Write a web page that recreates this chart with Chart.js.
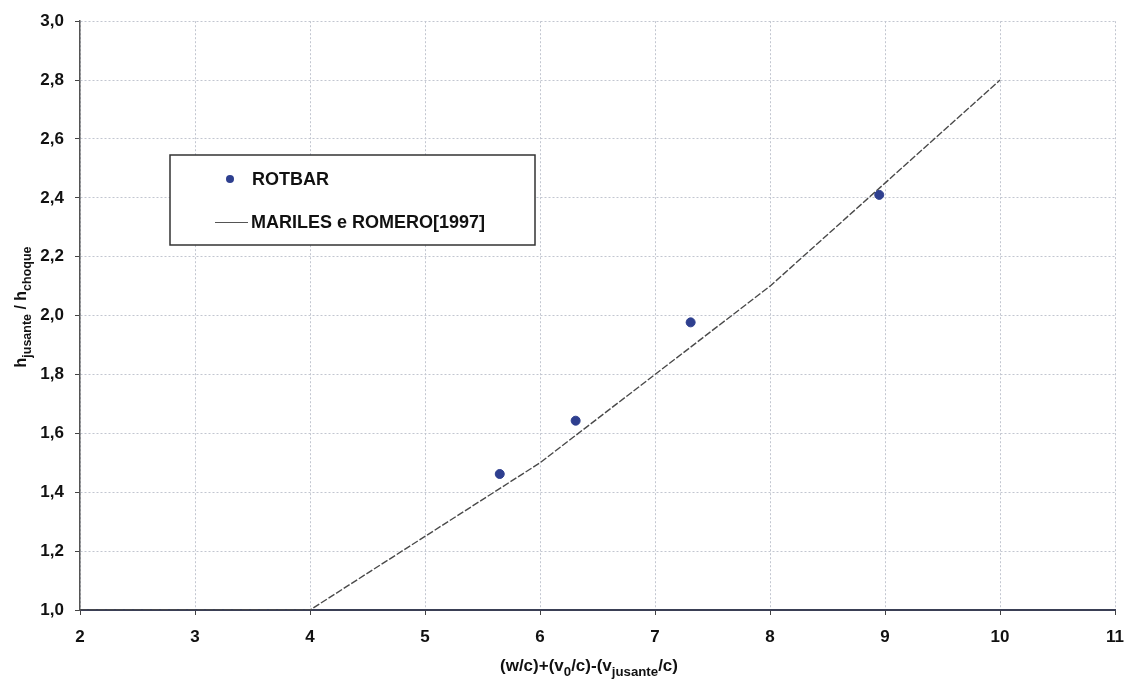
<!DOCTYPE html>
<html>
<head>
<meta charset="utf-8">
<script src="https://cdn.jsdelivr.net/npm/chart.js@4"></script>
<style>
  html, body { margin: 0; padding: 0; background: #fff; }
  #wrap { width: 1129px; height: 679px; position: relative; }
</style>
</head>
<body>
<div id="wrap"><canvas id="razaoChart"></canvas></div>
<script>
// ensaios ROTBAR
var rotbarX = [5.65, 6.31, 7.31, 8.95];
var rotbarY = [1.462, 1.643, 1.977, 2.41];

// curva de MARILES e ROMERO [1997]
var marilesX = [2, 4, 5, 6, 7, 8, 9, 10];
var marilesY = [1.0, 1.0, 1.25, 1.5, 1.8, 2.1, 2.45, 2.8];

var labelRotbar = 'ROTBAR';
var labelMariles = 'MARILES e ROMERO[1997]';

var familia = '"Liberation Sans", Arial, sans-serif';

function pares(xs, ys) {
    return xs.map(function (x, i) { return { x: x, y: ys[i] }; });
}

// escreve texto com subscritos: partes = [[texto, sub?], ...]
function textoSub(ctx, partes, x, y, tam, centro) {
    var total = 0;
    partes.forEach(function (p) {
        ctx.font = 'bold ' + (p[1] ? tam * 0.78 : tam) + 'px ' + familia;
        total += ctx.measureText(p[0]).width;
    });
    var cx = centro ? x - total / 2 : x;
    partes.forEach(function (p) {
        ctx.font = 'bold ' + (p[1] ? tam * 0.78 : tam) + 'px ' + familia;
        ctx.fillText(p[0], cx, p[1] ? y + tam * 0.3 : y);
        cx += ctx.measureText(p[0]).width;
    });
}

var extras = {
    id: 'extras',
    afterDraw: function (chart) {
        var ctx = chart.ctx;
        ctx.save();
        ctx.fillStyle = '#111';
        ctx.textBaseline = 'alphabetic';
        ctx.textAlign = 'left';

        // titulo eixo x
        textoSub(ctx, [['(w/c)+(v', 0], ['0', 1], ['/c)-(v', 0], ['jusante', 1], ['/c)', 0]],
            589, 671, 17, true);

        // titulo eixo y (rodado)
        ctx.translate(26, 307);
        ctx.rotate(-Math.PI / 2);
        textoSub(ctx, [['h', 0], ['jusante', 1], [' / h', 0], ['choque', 1]], 0, 0, 16, true);
        ctx.restore();

        // legenda
        ctx.save();
        var lx = 170, ly = 155, lw = 365, lh = 90;
        ctx.fillStyle = '#fff';
        ctx.fillRect(lx, ly, lw, lh);
        ctx.strokeStyle = '#333';
        ctx.lineWidth = 1.5;
        ctx.strokeRect(lx, ly, lw, lh);

        ctx.fillStyle = '#2e3f8f';
        ctx.beginPath();
        ctx.arc(230, 179, 4, 0, Math.PI * 2);
        ctx.fill();

        ctx.strokeStyle = '#555';
        ctx.lineWidth = 1;
        ctx.beginPath();
        ctx.moveTo(215, 222.5);
        ctx.lineTo(248, 222.5);
        ctx.stroke();

        ctx.fillStyle = '#111';
        ctx.font = 'bold 18px ' + familia;
        ctx.textBaseline = 'middle';
        ctx.fillText(labelRotbar, 252, 180);
        ctx.fillText(labelMariles, 251, 223);
        ctx.restore();
    }
};

function grade() {
    return {
        color: '#c2c6d0',
        lineWidth: 1,
        tickLength: 5,
        tickColor: '#444'
    };
}

var ctx = document.getElementById('razaoChart').getContext('2d');
var razaoChart = new Chart(ctx, {
    type: 'scatter',
    data: {
        datasets: [{
            label: labelMariles,
            data: pares(marilesX, marilesY),
            showLine: true,
            borderColor: '#4a4a4a',
            borderWidth: 1.4,
            borderDash: [7, 2],
            pointRadius: 0,
            fill: false,
            order: 2
        }, {
            label: labelRotbar,
            data: pares(rotbarX, rotbarY),
            showLine: false,
            backgroundColor: '#2e3f8f',
            borderColor: '#2e3f8f',
            pointRadius: 4.5,
            order: 1
        }]
    },
    options: {
        responsive: true,
        maintainAspectRatio: false,
        animation: false,
        layout: { padding: { left: 0, top: 21, right: 14, bottom: 0 } },
        plugins: {
            legend: { display: false },
            tooltip: { enabled: false }
        },
        scales: {
            x: {
                type: 'linear',
                min: 2,
                max: 11,
                ticks: {
                    stepSize: 1,
                    color: '#111',
                    padding: 12,
                    font: { family: familia, size: 17, weight: 'bold' }
                },
                grid: grade(),
                // dash vale para as linhas de grade; o eixo fica cheio
                border: { display: true, color: '#3a3f55', width: 2, dash: [2, 2] },
                afterFit: function (s) {
                    s.height = 69;
                    s.paddingRight = 0;
                }
            },
            y: {
                type: 'linear',
                min: 1,
                max: 3,
                ticks: {
                    stepSize: 0.2,
                    color: '#111',
                    padding: 11,
                    font: { family: familia, size: 17, weight: 'bold' },
                    callback: function (v) { return v.toFixed(1).replace('.', ','); }
                },
                grid: grade(),
                border: { display: true, color: '#555', width: 1.5, dash: [2, 2] },
                afterFit: function (s) { s.width = 80; }
            }
        }
    },
    plugins: [extras]
});
</script>
</body>
</html>
